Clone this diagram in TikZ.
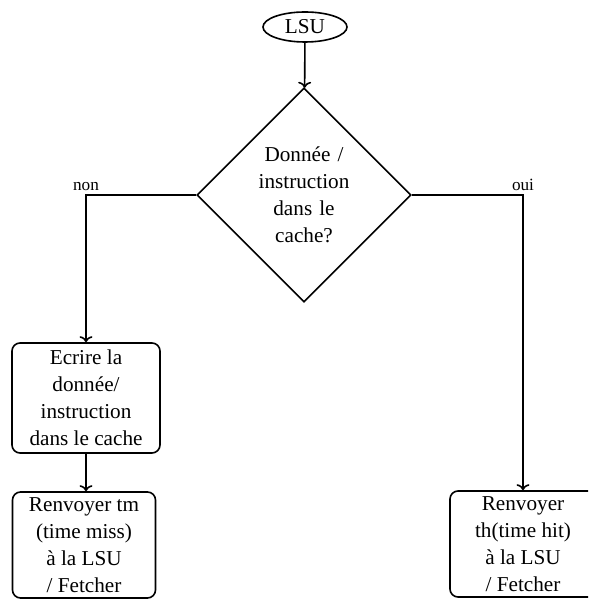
\documentclass[tikz,border=0pt]{standalone}
\usepackage{fontspec}
\setmainfont{Liberation Serif}
\usetikzlibrary{shapes.geometric,arrows.meta}

\begin{document}
\begin{tikzpicture}[x=0.5pt,y=-0.5pt,
    font=\fontsize{10.6}{13.5}\selectfont,
    line width=0.8pt,
    flow/.style={-{To[length=3pt,width=6.5pt]}},
    startnode/.style={draw,ellipse,inner sep=0pt,minimum width=42pt,minimum height=15pt},
    testnode/.style={draw,diamond,inner sep=0pt,minimum width=107pt,minimum height=107pt,
                     text width=48pt,align=center},
    stepbox/.style={draw,rounded corners=4pt,inner sep=0pt,align=center},
    branch/.style={font=\fontsize{8.6}{10}\selectfont,inner sep=1pt}]

  \useasboundingbox (0,0) rectangle (588,603);
  \clip (0,0) rectangle (588,603);

  % start
  \node[startnode] (lsu) at (305,27) {LSU};

  % cache test
  \node[testnode] (test) at (304,195) {Donnée /\\instruction\\dans le\\cache?};

  % miss branch
  \node[stepbox,minimum width=74pt,minimum height=55pt] (write) at (86,398)
       {Ecrire la\\donnée/\\instruction\\dans le cache};
  \node[stepbox,minimum width=71.5pt,minimum height=53pt] (miss) at (84,545)
       {Renvoyer tm\\(time miss)\\à la LSU\\/ Fetcher};

  % hit branch
  \node[stepbox,minimum width=73pt,minimum height=53pt] (hit) at (523,544)
       {Renvoyer\\th(time hit)\\à la LSU\\/ Fetcher};

  % connectors
  \draw[flow] (lsu) -- (test);
  \draw[flow] (test.west) -| coordinate (nonc) (write.north);
  \draw[flow] (test.east) -| coordinate (ouic) (hit.north);
  \draw[flow] (write.south) -- (write.south |- miss.north);

  % branch labels
  \node[branch,anchor=south] (nonlbl) at ([yshift=1pt]nonc) {non};
  \node[branch,anchor=south] (ouilbl) at ([yshift=1pt]ouic) {oui};
\end{tikzpicture}
\end{document}
